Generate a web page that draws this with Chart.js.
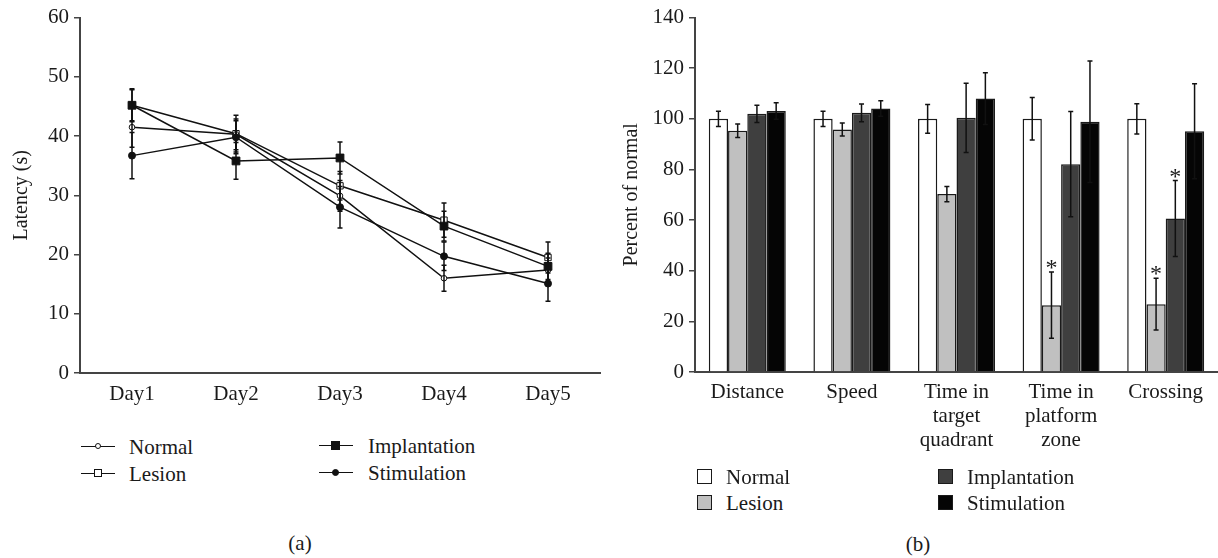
<!DOCTYPE html>
<html>
<head>
<meta charset="utf-8">
<script src="https://cdn.jsdelivr.net/npm/chart.js@4/dist/chart.umd.min.js"></script>
<style>
  body { margin: 0; background: #fff; width: 1218px; height: 558px; position: relative; overflow: hidden;
         font-family: 'Liberation Serif', 'DejaVu Serif', serif; color: #1a1a1a; }
  canvas { position: absolute; top: 0; }
  .item { position: absolute; height: 24px; line-height: 24px; font-size: 21px; white-space: nowrap; }
  .mark { position: absolute; top: 11px; width: 34px; height: 0; border-top: 1.5px solid #111; }
  .dot { position: absolute; box-sizing: border-box; border: 1px solid #111; }
  .box { position: absolute; top: 4px; width: 15px; height: 15px; box-sizing: border-box; border: 1.5px solid #1a1a1a; }
  .cap { position: absolute; font-size: 21px; transform: translate(-50%, -50%); }
</style>
</head>
<body>
<canvas id="lineChart" width="610" height="420" style="left:0"></canvas>
<canvas id="barChart" width="608" height="470" style="left:610px"></canvas>

<!-- legend (a) -->
<div class="item" style="left:81px;top:435px"><span class="mark"><span class="dot" style="left:14px;top:-4px;width:6px;height:6px;border-radius:50%;background:#fff"></span></span><span style="margin-left:48px">Normal</span></div>
<div class="item" style="left:81px;top:462px"><span class="mark"><span class="dot" style="left:13px;top:-5px;width:8px;height:8px;background:#fff"></span></span><span style="margin-left:48px">Lesion</span></div>
<div class="item" style="left:319px;top:434px"><span class="mark"><span class="dot" style="left:12px;top:-5.5px;width:9px;height:9px;background:#111"></span></span><span style="margin-left:49px">Implantation</span></div>
<div class="item" style="left:319px;top:461px"><span class="mark"><span class="dot" style="left:13px;top:-4.5px;width:7px;height:7px;border-radius:50%;background:#111"></span></span><span style="margin-left:49px">Stimulation</span></div>

<!-- legend (b) -->
<div class="item" style="left:697px;top:465px"><span class="box" style="background:#fff"></span><span style="margin-left:29px">Normal</span></div>
<div class="item" style="left:697px;top:491px"><span class="box" style="background:#c0c0c0"></span><span style="margin-left:29px">Lesion</span></div>
<div class="item" style="left:938px;top:465px"><span class="box" style="background:#3f3f3f"></span><span style="margin-left:29px">Implantation</span></div>
<div class="item" style="left:938px;top:491px"><span class="box" style="background:#050505"></span><span style="margin-left:29px">Stimulation</span></div>

<div class="cap" style="left:300px;top:543px">(a)</div>
<div class="cap" style="left:918px;top:544px">(b)</div>

<script>
'use strict';
// (a) latency data
let days = ['Day1', 'Day2', 'Day3', 'Day4', 'Day5'];
let latencyNormal = [41.5, 40.3, 29.9, 16.0, 17.4];
let latencyLesion = [45.2, 40.4, 31.6, 25.8, 19.5];
let latencyImplantation = [45.2, 35.8, 36.3, 24.8, 18.0];
let latencyStimulation = [36.7, 39.8, 28.0, 19.7, 15.1];
let latencyErrNormal = [3.4, 2.6, 2.6, 2.2, 2.0];
let latencyErrLesion = [2.6, 3.1, 2.4, 2.9, 2.6];
let latencyErrImplantation = [2.8, 3.1, 2.7, 2.5, 2.2];
let latencyErrStimulation = [3.9, 2.8, 3.5, 2.4, 3.0];
let latencyTicks = [0, 10, 20, 30, 40, 50, 60];

// (b) percent of normal data
let measures = ['Distance', 'Speed', ['Time in', 'target', 'quadrant'], ['Time in', 'platform', 'zone'], 'Crossing'];
let pctNormal = [100, 100, 100, 100, 100];
let pctLesion = [95.3, 95.8, 70.3, 26.4, 26.8];
let pctImplantation = [102.0, 102.4, 100.4, 82.1, 60.6];
let pctStimulation = [103.1, 104.1, 108.0, 98.9, 95.1];
let pctErrNormal = [3.0, 3.0, 5.7, 8.4, 6.0];
let pctErrLesion = [2.7, 2.6, 3.0, 13.1, 10.2];
let pctErrImplantation = [3.4, 3.5, 13.7, 20.8, 15.0];
let pctErrStimulation = [3.3, 3.1, 10.2, 24.0, 18.8];
let starLesion = [false, false, false, true, true];
let starImplantation = [false, false, false, false, true];
let pctTicks = [0, 20, 40, 60, 80, 100, 120, 140];

let serif = "'Liberation Serif', 'DejaVu Serif', serif";
Chart.defaults.font.family = serif;
Chart.defaults.font.size = 21;
Chart.defaults.color = '#1a1a1a';

// error bars + asterisks drawn through the chart scales
let errorBars = {
    id: 'errorBars',
    afterDatasetsDraw(chart, args, opts) {
        let ctx = chart.ctx;
        let yScale = chart.scales.y;
        ctx.save();
        ctx.strokeStyle = '#111';
        ctx.lineWidth = 1.5;
        chart.data.datasets.forEach(function (ds, i) {
            let meta = chart.getDatasetMeta(i);
            meta.data.forEach(function (el, j) {
                let v = ds.data[j];
                let e = ds.errors[j];
                let top = yScale.getPixelForValue(v + e);
                let bot = yScale.getPixelForValue(v - e);
                let x = el.x;
                ctx.beginPath();
                ctx.moveTo(x, top); ctx.lineTo(x, bot);
                ctx.moveTo(x - opts.cap, top); ctx.lineTo(x + opts.cap, top);
                ctx.moveTo(x - opts.cap, bot); ctx.lineTo(x + opts.cap, bot);
                ctx.stroke();
                if (ds.stars && ds.stars[j]) {
                    ctx.fillStyle = '#1a1a1a';
                    ctx.font = '24px ' + serif;
                    ctx.textAlign = 'center';
                    ctx.textBaseline = 'alphabetic';
                    ctx.fillText('*', x, top + 3);
                }
            });
        });
        ctx.restore();
    }
};

function lineSet(label, data, errors, style, radius, fill) {
    return {
        label: label, data: data, errors: errors,
        borderColor: '#111', borderWidth: 1.5,
        pointStyle: style, pointRadius: radius,
        pointBackgroundColor: fill, pointBorderColor: '#111', pointBorderWidth: 1,
        tension: 0
    };
}

new Chart(document.getElementById('lineChart'), {
    type: 'line',
    data: {
        labels: days,
        datasets: [
            lineSet('Stimulation', latencyStimulation, latencyErrStimulation, 'circle', 3.5, '#111'),
            lineSet('Implantation', latencyImplantation, latencyErrImplantation, 'rect', 5.5, '#111'),
            lineSet('Normal', latencyNormal, latencyErrNormal, 'circle', 2.8, '#fff'),
            lineSet('Lesion', latencyLesion, latencyErrLesion, 'rect', 4.5, '#fff')
        ]
    },
    options: {
        responsive: false,
        animation: false,
        layout: { padding: { left: 0, right: 10, top: 16, bottom: 0 } },
        plugins: { legend: { display: false }, tooltip: { enabled: false }, errorBars: { cap: 2.5 } },
        scales: {
            x: {
                offset: true,
                grid: { display: false },
                border: { display: true, color: '#444', width: 2 },
                ticks: { padding: 1, color: '#1a1a1a' },
                afterFit: function (s) { s.height = 47; }
            },
            y: {
                min: latencyTicks[0], max: latencyTicks[latencyTicks.length - 1],
                ticks: { stepSize: latencyTicks[1] - latencyTicks[0], padding: 5, color: '#1a1a1a' },
                grid: { drawOnChartArea: false, drawTicks: true, tickLength: 6, color: '#444', lineWidth: 1.5 },
                border: { display: true, color: '#444', width: 2 },
                title: { display: true, text: 'Latency (s)', padding: { top: 10, bottom: 0 }, font: { size: 20 } },
                afterFit: function (s) { s.width = 80; }
            }
        }
    },
    plugins: [errorBars]
});

function barSet(label, data, errors, color, stars) {
    return {
        label: label, data: data, errors: errors, stars: stars,
        backgroundColor: color, borderColor: '#1a1a1a', borderWidth: 1.5,
        categoryPercentage: 0.736, barPercentage: 1
    };
}

new Chart(document.getElementById('barChart'), {
    type: 'bar',
    data: {
        labels: measures,
        datasets: [
            barSet('Normal', pctNormal, pctErrNormal, '#ffffff', null),
            barSet('Lesion', pctLesion, pctErrLesion, '#c0c0c0', starLesion),
            barSet('Implantation', pctImplantation, pctErrImplantation, '#3f3f3f', starImplantation),
            barSet('Stimulation', pctStimulation, pctErrStimulation, '#050505', null)
        ]
    },
    options: {
        responsive: false,
        animation: false,
        layout: { padding: { left: 0, right: 0, top: 16, bottom: 0 } },
        plugins: { legend: { display: false }, tooltip: { enabled: false }, errorBars: { cap: 2.5 } },
        scales: {
            x: {
                grid: { display: false },
                border: { display: true, color: '#444', width: 2 },
                ticks: { padding: 0, color: '#1a1a1a', maxRotation: 0, autoSkip: false,
                         font: { lineHeight: 1.15 } },
                afterFit: function (s) { s.height = 98; }
            },
            y: {
                min: pctTicks[0], max: pctTicks[pctTicks.length - 1],
                ticks: { stepSize: pctTicks[1] - pctTicks[0], padding: 5, color: '#1a1a1a' },
                grid: { drawOnChartArea: false, drawTicks: true, tickLength: 6, color: '#444', lineWidth: 1.5 },
                border: { display: true, color: '#444', width: 2 },
                title: { display: true, text: 'Percent of normal', padding: { top: 10, bottom: 0 }, font: { size: 20 } },
                afterFit: function (s) { s.width = 85; }
            }
        }
    },
    plugins: [errorBars]
});
</script>
</body>
</html>
